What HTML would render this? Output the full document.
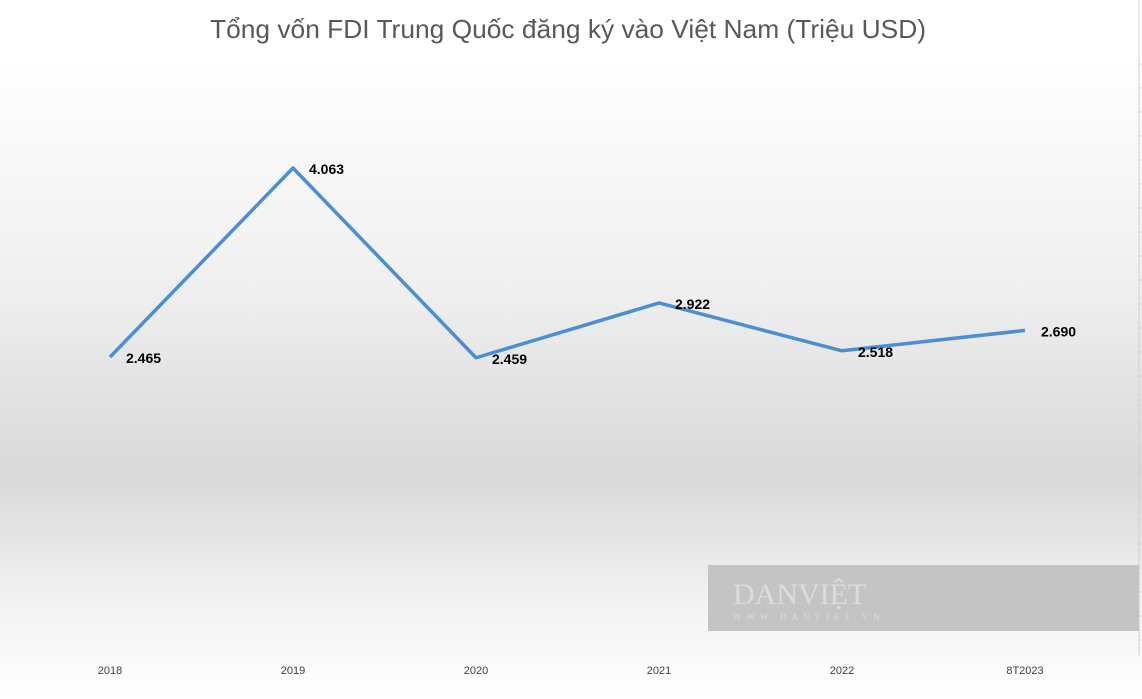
<!DOCTYPE html>
<html><head><meta charset="utf-8"><style>
html,body{margin:0;padding:0;background:#fff}
svg{display:block;font-family:"Liberation Sans",sans-serif}
</style></head><body>
<svg width="1142" height="699" viewBox="0 0 1142 699" xmlns="http://www.w3.org/2000/svg">
<defs>
<linearGradient id="bg" x1="0" y1="0" x2="0" y2="1">
<stop offset="0" stop-color="#ffffff"/>
<stop offset="0.08" stop-color="#ffffff"/>
<stop offset="0.4" stop-color="#f0f0f0"/>
<stop offset="0.68" stop-color="#d9d9d9"/>
<stop offset="0.86" stop-color="#f2f2f2"/>
<stop offset="1" stop-color="#ffffff"/>
</linearGradient>
</defs>
<rect x="0" y="0" width="1142" height="699" fill="url(#bg)"/>
<text x="568" y="38" text-anchor="middle" font-size="26" fill="#595959" textLength="716" lengthAdjust="spacingAndGlyphs">Tổng vốn FDI Trung Quốc đăng ký vào Việt Nam (Triệu USD)</text>
<line x1="1139" y1="0" x2="1139" y2="655" stroke="#d0d0d0" stroke-width="1"/>
<g id="ticks"></g>
<rect x="708" y="565" width="431" height="66" fill="#c4c4c4"/>
<text x="733" y="604" font-family="Liberation Serif,serif" font-size="30" fill="#dcdcdc">DANVIỆT</text>
<text x="733" y="620" font-family="Liberation Serif,serif" font-size="9" letter-spacing="5" fill="#dcdcdc">WWW.DANVIET.VN</text>
<g id="series"></g>
<g id="labels"></g>
<g id="xaxis"></g>
</svg>
<script>
const categories = ["2018","2019","2020","2021","2022","8T2023"];
const values = [2465, 4063, 2459, 2922, 2518, 2690];
const valueLabels = ["2.465","4.063","2.459","2.922","2.518","2.690"];
const NS = "http://www.w3.org/2000/svg";
function x(i){ return 110 + i*183; }
function y(v){ return 168 + (4063 - v)*0.1183; }
const ticks = document.getElementById('ticks');
for(let k=0;k<25;k++){
  const t=document.createElementNS(NS,'line');
  
  
  t.setAttribute('x1',1139);t.setAttribute('x2',1142);
  t.setAttribute('y1',64+24*k);t.setAttribute('y2',64+24*k);
  t.setAttribute('stroke','#d0d0d0');
  ticks.appendChild(t);
}
const pl=document.createElementNS(NS,'polyline');


pl.setAttribute('points',values.map((v,i)=>x(i)+','+y(v)).join(' '));
pl.setAttribute('fill','none');pl.setAttribute('stroke','#4a8fd4');pl.setAttribute('stroke-width','3.5');
pl.setAttribute('stroke-linejoin','round');
document.getElementById('series').appendChild(pl);
const lg=document.getElementById('labels');
values.forEach((v,i)=>{
  const t=document.createElementNS(NS,'text');
  
  
  t.setAttribute('x',x(i)+16);t.setAttribute('y',y(v)+6);
  t.setAttribute('font-size','14');t.setAttribute('font-weight','bold');t.setAttribute('fill','#000');
  t.textContent=valueLabels[i];
  lg.appendChild(t);
});
const xa=document.getElementById('xaxis');
categories.forEach((c,i)=>{
  const t=document.createElementNS(NS,'text');
  
  
  t.setAttribute('x',x(i));t.setAttribute('y',674);
  t.setAttribute('text-anchor','middle');t.setAttribute('font-size','11');t.setAttribute('fill','#404040');
  t.textContent=c;
  xa.appendChild(t);
});
</script>
</body></html>
